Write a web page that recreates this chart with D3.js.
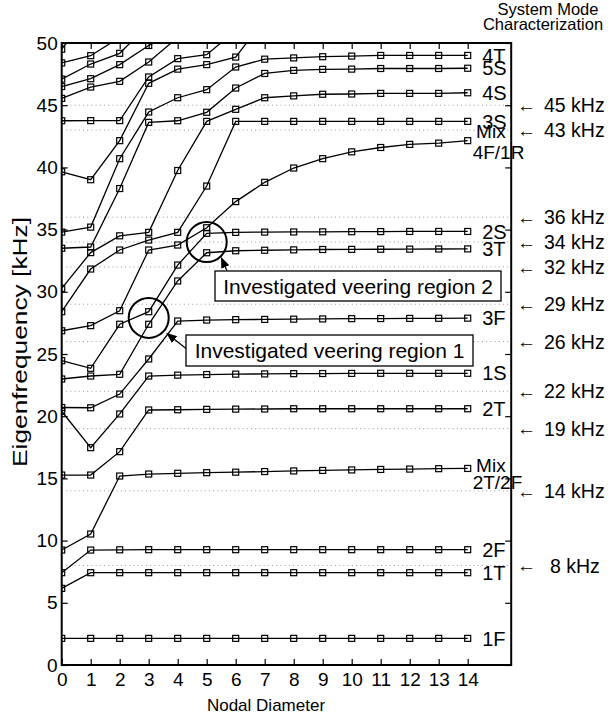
<!DOCTYPE html>
<html>
<head>
<meta charset="utf-8">
<script src="https://cdn.jsdelivr.net/npm/d3@7"></script>
<style>
  body { margin: 0; background: #fff; }
  svg { display: block; }
  text { font-family: "Liberation Sans", Arial, Helvetica, sans-serif; fill: #000; }
</style>
</head>
<body>
<svg id="chart" width="610" height="717"></svg>
<script>
// Nodal diameters on the x axis
const nodalDiameters = d3.range(0, 15);

// Eigenfrequencies [kHz] of each system mode (sorted by order), per nodal diameter.
// null = above the plotted range.
const mode1  = [2.14, 2.14, 2.14, 2.14, 2.14, 2.14, 2.14, 2.14, 2.14, 2.14, 2.14, 2.14, 2.14, 2.14, 2.14];
const mode2  = [6.16, 7.42, 7.42, 7.42, 7.42, 7.42, 7.42, 7.42, 7.42, 7.42, 7.42, 7.42, 7.42, 7.42, 7.42];
const mode3  = [7.42, 9.24, 9.26, 9.27, 9.27, 9.27, 9.27, 9.27, 9.27, 9.27, 9.27, 9.27, 9.27, 9.27, 9.27];
const mode4  = [9.24, 10.53, 15.19, 15.35, 15.41, 15.46, 15.5, 15.55, 15.6, 15.64, 15.68, 15.72, 15.75, 15.78, 15.8];
const mode5  = [15.27, 15.27, 17.15, 20.5, 20.52, 20.55, 20.57, 20.58, 20.6, 20.6, 20.6, 20.6, 20.6, 20.6, 20.6];
const mode6  = [20.4, 17.47, 20.18, 23.23, 23.3, 23.35, 23.38, 23.4, 23.42, 23.43, 23.44, 23.45, 23.45, 23.45, 23.45];
const mode7  = [20.7, 20.68, 21.78, 24.6, 27.65, 27.73, 27.76, 27.78, 27.8, 27.82, 27.84, 27.85, 27.86, 27.87, 27.88];
const mode8  = [22.99, 23.23, 23.37, 27.39, 30.87, 33.14, 33.3, 33.34, 33.37, 33.4, 33.41, 33.42, 33.43, 33.44, 33.45];
const mode9  = [24.46, 23.85, 27.39, 28.4, 32.15, 34.7, 34.78, 34.8, 34.81, 34.82, 34.83, 34.84, 34.85, 34.85, 34.85];
const mode10 = [26.87, 27.28, 28.48, 33.36, 33.76, 35.15, 37.25, 38.8, 39.95, 40.7, 41.25, 41.6, 41.85, 41.95, 42.15];
const mode11 = [28.4, 31.83, 33.36, 34.16, 34.78, 38.5, 43.7, 43.7, 43.7, 43.7, 43.7, 43.7, 43.7, 43.7, 43.7];
const mode12 = [30.28, 33.15, 34.5, 34.78, 39.75, 43.7, 44.67, 45.6, 45.75, 45.88, 45.9, 45.95, 45.95, 45.95, 46.0];
const mode13 = [33.5, 33.6, 38.3, 43.62, 43.75, 44.43, 46.38, 47.55, 47.8, 47.88, 47.9, 47.95, 47.95, 47.95, 47.97];
const mode14 = [34.8, 35.2, 40.7, 44.45, 45.6, 46.25, 48.07, 48.7, 48.8, 48.9, 48.95, 49.0, 49.0, 49.0, 49.0];
const mode15 = [39.65, 39.01, 42.15, 46.76, 47.9, 48.26, 48.87, 51.9, null, null, null, null, null, null, null];
const mode16 = [43.75, 43.76, 43.76, 47.27, 48.74, 49.06, 51.0, null, null, null, null, null, null, null, null];
const mode17 = [45.55, 46.46, 46.92, 48.47, 50.45, null, null, null, null, null, null, null, null, null, null];
const mode18 = [46.5, 47.13, 48.26, 49.8, 50.9, null, null, null, null, null, null, null, null, null, null];
const mode19 = [47.1, 48.31, 49.17, 51.5, null, null, null, null, null, null, null, null, null, null, null];
const mode20 = [48.4, 48.98, 50.45, null, null, null, null, null, null, null, null, null, null, null, null];
const mode21 = [49.5, 52.5, null, null, null, null, null, null, null, null, null, null, null, null, null];

const modes = [mode1, mode2, mode3, mode4, mode5, mode6, mode7, mode8, mode9, mode10,
               mode11, mode12, mode13, mode14, mode15, mode16, mode17, mode18, mode19, mode20, mode21];

// Mode family names at the right end (index into modes); two-line names carry their own offsets
const modeNames = [
  { mode: 0,  lines: ["1F"] },
  { mode: 1,  lines: ["1T"] },
  { mode: 2,  lines: ["2F"] },
  { mode: 3,  lines: ["Mix", "2T/2F"], dy: [-3, 14] },
  { mode: 4,  lines: ["2T"] },
  { mode: 5,  lines: ["1S"] },
  { mode: 6,  lines: ["3F"] },
  { mode: 7,  lines: ["3T"] },
  { mode: 8,  lines: ["2S"] },
  { mode: 9,  lines: ["Mix", "4F/1R"], dy: [-9, 12] },
  { mode: 10, lines: ["3S"] },
  { mode: 11, lines: ["4S"] },
  { mode: 12, lines: ["5S"] },
  { mode: 13, lines: ["4T"] }
];

// Reference excitation frequencies [kHz]
const refFrequencies = [8, 14, 19, 22, 26, 29, 32, 34, 36, 43, 45];

const yTicks = d3.range(0, 55, 5);
const xTicks = nodalDiameters;

// Veering regions: [nodal diameter, frequency]
const veeringRegions = [
  { nd: 3, f: 27.9, text: "Investigated veering region 1" },
  { nd: 5, f: 34.0, text: "Investigated veering region 2" }
];

const svg = d3.select("#chart");
const x = d3.scaleLinear().domain([0, 15.5]).range([61.7, 61.7 + 15.5 * 29]);
const y = d3.scaleLinear().domain([0, 50]).range([665, 43]);
const [x0, x1] = x.range();
const [yb, yt] = y.range();

svg.append("defs").append("clipPath").attr("id", "plotClip")
  .append("rect").attr("x", x0).attr("y", yt).attr("width", x1 - x0).attr("height", yb - yt);

// dotted reference lines
svg.append("g").selectAll("line").data(refFrequencies).join("line")
  .attr("x1", x0 + 4.5).attr("x2", x1)
  .attr("y1", d => y(d)).attr("y2", d => y(d))
  .attr("stroke", "#9a9a9a").attr("stroke-width", 1)
  .attr("stroke-dasharray", "1,3.2");

// mode curves
const plot = svg.append("g").attr("clip-path", "url(#plotClip)");
const line = d3.line()
  .defined(d => d.f != null)
  .x(d => x(d.nd)).y(d => y(d.f));

modes.forEach(m => {
  const pts = m.map((f, i) => ({ nd: nodalDiameters[i], f }));
  plot.append("path").datum(pts)
    .attr("d", line).attr("fill", "none")
    .attr("stroke", "#000").attr("stroke-width", 1.3);
  plot.append("g").selectAll("rect").data(pts.filter(p => p.f != null)).join("rect")
    .attr("x", d => x(d.nd) - 3).attr("y", d => y(d.f) - 3)
    .attr("width", 6).attr("height", 6)
    .attr("fill", "none").attr("stroke", "#000").attr("stroke-width", 1.2);
});

// axes (inward ticks on all four sides)
const axisStyle = g => {
  g.select(".domain").remove();
  g.selectAll(".tick line").attr("stroke", "#000").attr("stroke-width", 1.2);
  g.selectAll("text").attr("font-size", 19).attr("fill", "#000")
    .attr("font-family", "Liberation Sans, Arial, sans-serif");
};
svg.append("g").attr("transform", `translate(0,${yb})`)
  .call(d3.axisBottom(x).tickValues(xTicks).tickSizeInner(-6).tickSizeOuter(0).tickPadding(8))
  .call(axisStyle);
svg.append("g").attr("transform", `translate(0,${yt})`)
  .call(d3.axisTop(x).tickValues(xTicks).tickSizeInner(-6).tickSizeOuter(0).tickFormat(""))
  .call(axisStyle);
svg.append("g").attr("transform", `translate(${x0},0)`)
  .call(d3.axisLeft(y).tickValues(yTicks).tickSizeInner(-6).tickSizeOuter(0).tickPadding(4))
  .call(axisStyle);
svg.append("g").attr("transform", `translate(${x1},0)`)
  .call(d3.axisRight(y).tickValues(yTicks).tickSizeInner(-6).tickSizeOuter(0).tickFormat(""))
  .call(axisStyle);

svg.append("rect").attr("x", x0).attr("y", yt).attr("width", x1 - x0).attr("height", yb - yt)
  .attr("fill", "none").attr("stroke", "#000").attr("stroke-width", 2);

// axis titles
svg.append("text").attr("x", 266).attr("y", 711).attr("text-anchor", "middle")
  .attr("font-size", 17).text("Nodal Diameter");
svg.append("text").attr("transform", "translate(27,342) rotate(-90)").attr("text-anchor", "middle")
  .attr("font-size", 20.5).attr("textLength", 250).attr("lengthAdjust", "spacingAndGlyphs")
  .text("Eigenfrequency [kHz]");

// mode family names
modeNames.forEach(n => {
  const f = modes[n.mode][14];
  const g = svg.append("g");
  if (n.lines.length === 1) {
    g.append("text").attr("x", x(14.5)).attr("y", y(f)).attr("dy", "0.36em")
      .attr("font-size", 20).text(n.lines[0]);
  } else {
    g.append("text").attr("x", x(14.29)).attr("y", y(f) + n.dy[0]).attr("dy", "0.36em")
      .attr("font-size", 19).text(n.lines[0]);
    g.append("text").attr("x", x(14.17)).attr("y", y(f) + n.dy[1]).attr("dy", "0.36em")
      .attr("font-size", 19).text(n.lines[1]);
  }
});

// reference frequency annotations on the right
const ann = svg.append("g");
refFrequencies.forEach(f => {
  ann.append("text").attr("x", 517).attr("y", y(f)).attr("dy", "0.36em")
    .attr("font-family", "DejaVu Sans, sans-serif")
    .attr("font-size", 19).text("\u2190");
  ann.append("text").attr("x", f < 10 ? 550 : 544).attr("y", y(f)).attr("dy", "0.36em")
    .attr("font-size", 19.5).text(`${f} kHz`);
});

// header of the annotation column
svg.append("text").attr("x", 548).attr("y", 15).attr("text-anchor", "middle")
  .attr("font-size", 16.5).text("System Mode");
svg.append("text").attr("x", 543).attr("y", 30).attr("text-anchor", "middle")
  .attr("font-size", 16.5).text("Characterization");

// veering regions: circles, labelled boxes and arrows
svg.append("defs").append("marker").attr("id", "arrowHead")
  .attr("viewBox", "0 0 10 10").attr("refX", 9).attr("refY", 5)
  .attr("markerWidth", 9).attr("markerHeight", 9).attr("orient", "auto")
  .append("path").attr("d", "M0,1 L10,5 L0,9 Z").attr("fill", "#000");

const boxes = [
  { x: 186, y: 335, w: 287, h: 31, ax1: 186, ay1: 348.5, ax2: 167, ay2: 333.5 },
  { x: 215, y: 271, w: 286, h: 30, ax1: 227, ay1: 271, ax2: 221.5, ay2: 258 }
];
veeringRegions.forEach((r, i) => {
  svg.append("circle").attr("cx", x(r.nd)).attr("cy", y(r.f)).attr("r", 20)
    .attr("fill", "none").attr("stroke", "#000").attr("stroke-width", 2);
  const b = boxes[i];
  svg.append("line").attr("x1", b.ax1).attr("y1", b.ay1).attr("x2", b.ax2).attr("y2", b.ay2)
    .attr("stroke", "#000").attr("stroke-width", 1.2).attr("marker-end", "url(#arrowHead)");
  svg.append("rect").attr("x", b.x).attr("y", b.y).attr("width", b.w).attr("height", b.h)
    .attr("fill", "#fff").attr("stroke", "#000").attr("stroke-width", 1.3);
  svg.append("text").attr("x", b.x + b.w / 2).attr("y", b.y + b.h / 2).attr("dy", "0.36em")
    .attr("text-anchor", "middle").attr("font-size", 21).text(r.text);
});
</script>
</body>
</html>
